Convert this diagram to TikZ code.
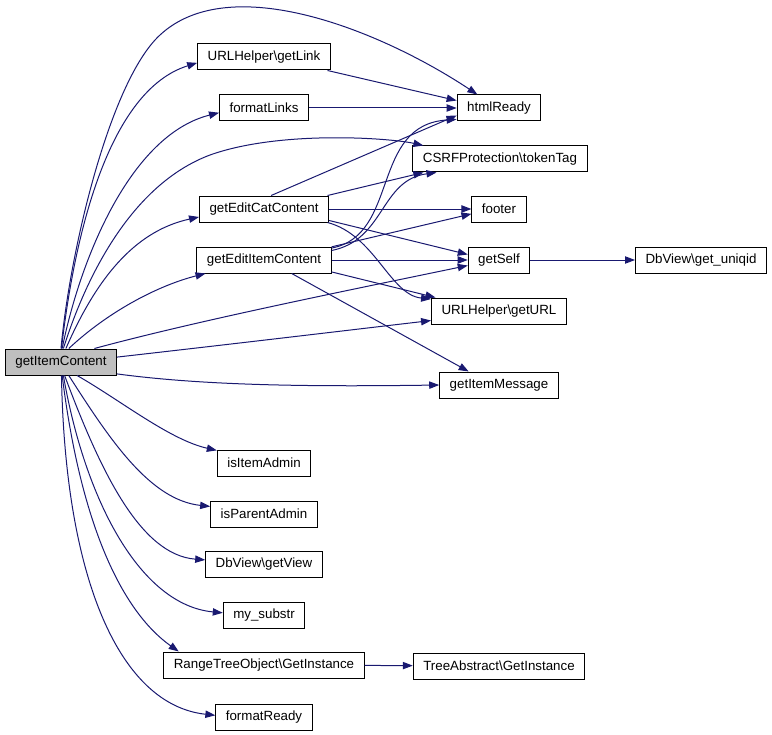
\documentclass[tikz,border=0pt]{standalone}
\usepackage{fontspec}
\setmainfont{Liberation Sans}
\usepackage{tikz}
\usetikzlibrary{arrows.meta}
\definecolor{edgeblue}{HTML}{191970}
\definecolor{callergray}{HTML}{BFBFBF}

\begin{document}
\begin{tikzpicture}[x=0.75pt, y=-0.75pt, >={Triangle[length=7.5pt,width=5.5pt]},
    fn/.style={draw=black, line width=0.75pt, fill=white, minimum height=19.5pt, inner xsep=7.5pt, inner ysep=0pt, font=\fontsize{10}{12}\selectfont},
    call/.style={->, draw=edgeblue, line width=0.75pt}]
    \useasboundingbox (0,0) rectangle (772,735);

    % Nodes
    \node[fn, fill=callergray] (item) at (61,362) {getItemContent};
    \node[fn] (getlink) at (264,57) {URLHelper\textbackslash getLink};
    \node[fn] (formatlinks) at (264,108) {formatLinks};
    \node[fn] (editcat) at (264,209) {getEditCatContent};
    \node[fn] (edititem) at (264,260) {getEditItemContent};
    \node[fn] (htmlready) at (499,108) {htmlReady};
    \node[fn] (tokentag) at (500,159) {CSRFProtection\textbackslash tokenTag};
    \node[fn] (footer) at (499,209) {footer};
    \node[fn] (getself) at (499,260) {getSelf};
    \node[fn] (uniqid) at (701,260) {DbView\textbackslash get\_uniqid};
    \node[fn] (geturl) at (499,311) {URLHelper\textbackslash getURL};
    \node[fn] (itemmsg) at (499,385) {getItemMessage};
    \node[fn] (itemadmin) at (264,463) {isItemAdmin};
    \node[fn] (parentadmin) at (264,514) {isParentAdmin};
    \node[fn] (getview) at (264,564) {DbView\textbackslash getView};
    \node[fn] (substr) at (264,615) {my\_substr};
    \node[fn] (rangeinst) at (264,665) {RangeTreeObject\textbackslash GetInstance};
    \node[fn] (treeinst) at (499,666) {TreeAbstract\textbackslash GetInstance};
    \node[fn] (formatready) at (264,717) {formatReady};

    % Calls from getItemContent (upwards)
    \draw[call] (item.north) .. controls (70,250) and (110,81) .. (160,35)
        .. controls (230,-30) and (380,30) .. (htmlready.148);
    \draw[call] (item.88) .. controls (75,230) and (110,90) .. (getlink.185);
    \draw[call] (item.85) .. controls (80,260) and (130,135) .. (formatlinks.186);
    \draw[call] (item.80) .. controls (85,280) and (130,185) .. (210,155)
        .. controls (280,130) and (390,138) .. (tokentag.170);
    \draw[call] (item.70) .. controls (100,270) and (140,230) .. (editcat.187);
    \draw[call] (item.60) .. controls (110,310) and (160,285) .. (edititem.193);
    \draw[call] (item.22) .. controls (200,320) and (350,290) .. (getself.190);
    \draw[call] (item.5) .. controls (250,342) and (350,330) .. (geturl.188);
    \draw[call] (item.-12) .. controls (200,385) and (300,387) .. (itemmsg.west);

    % Calls from getItemContent (downwards)
    \draw[call] (item.-40) .. controls (120,400) and (170,440) .. (itemadmin.165);
    \draw[call] (item.-60) .. controls (110,440) and (150,500) .. (parentadmin.172);
    \draw[call] (item.-75) .. controls (100,470) and (140,555) .. (getview.176);
    \draw[call] (item.-80) .. controls (85,500) and (140,605) .. (substr.177);
    \draw[call] (item.-85) .. controls (80,520) and (120,610) .. (rangeinst.171);
    \draw[call] (item.-88) .. controls (65,580) and (120,705) .. (formatready.178);

    % Second level
    \draw[call] (getlink.-12) -- (htmlready.170);
    \draw[call] (formatlinks) -- (htmlready);
    \draw[call] (editcat.62) -- (htmlready.190);
    \draw[call] (editcat.12) -- (tokentag.190);
    \draw[call] (editcat) -- (footer);
    \draw[call] (editcat.-10) -- (getself.170);
    \draw[call] (editcat.-12) .. controls (375,235) and (390,295) .. (geturl.170);
    \draw[call] (edititem.10) .. controls (400,235) and (370,125) .. (htmlready.195);
    \draw[call] (edititem.8) .. controls (385,240) and (380,180) .. (tokentag.192);
    \draw[call] (edititem.11) -- (footer.190);
    \draw[call] (edititem) -- (getself);
    \draw[call] (edititem.-10) -- (geturl.168);
    \draw[call] (edititem.-26) -- (itemmsg.156);
    \draw[call] (getself) -- (uniqid);
    \draw[call] (rangeinst) -- (treeinst);
\end{tikzpicture}
\end{document}
